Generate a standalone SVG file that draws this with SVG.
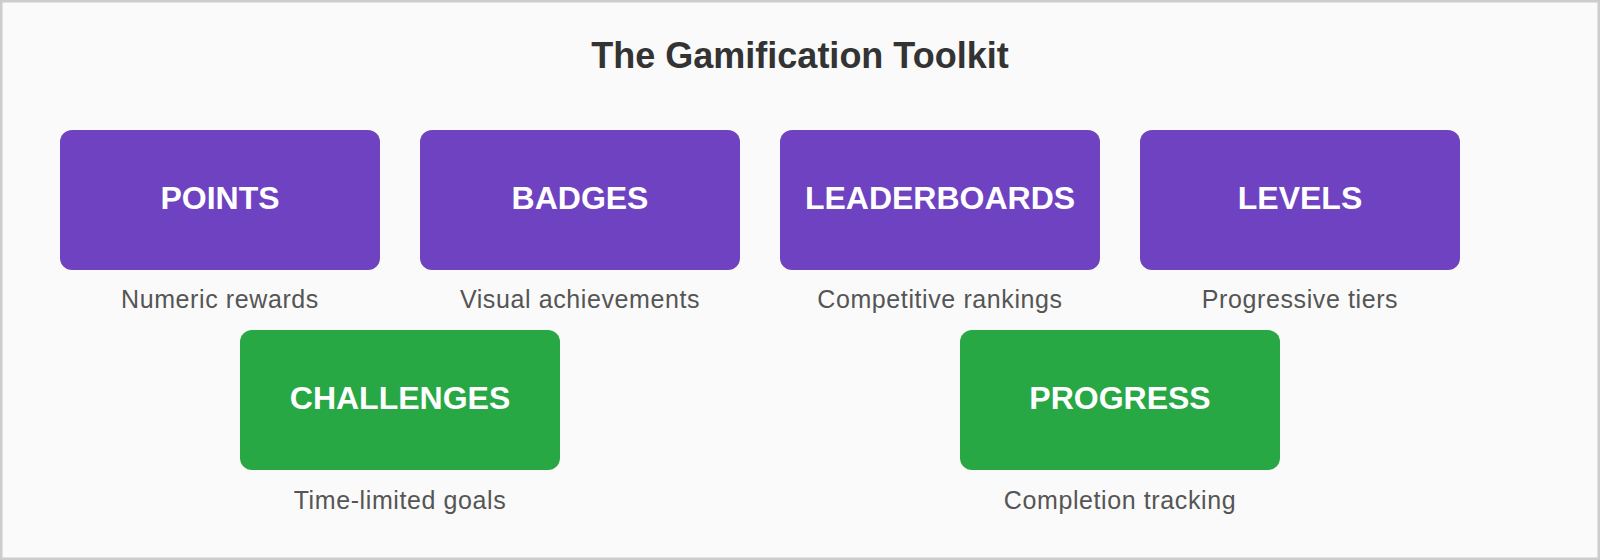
<svg xmlns="http://www.w3.org/2000/svg" width="1600" height="560" viewBox="0 0 1600 560">
  <style>
    .title { font-family: "Liberation Sans", Arial, sans-serif; font-weight: bold; font-size: 36px; fill: #333333; text-anchor: middle; }
    .box-purple { fill: #6f42c1; }
    .box-green { fill: #28a745; }
    .label { font-family: "Liberation Sans", Arial, sans-serif; font-weight: bold; font-size: 32px; fill: #ffffff; text-anchor: middle; }
    .sub { font-family: "Liberation Sans", Arial, sans-serif; font-size: 25px; letter-spacing: 0.6px; fill: #555555; text-anchor: middle; }
  </style>
  <rect x="1.25" y="1.25" width="1597.5" height="557.5" fill="#fafafa" stroke="#cccccc" stroke-width="2.5"/>
  <text class="title" x="800" y="68">The Gamification Toolkit</text>
  <g id="connectors"></g>
  <g id="node-points">
    <rect class="box-purple" x="60" y="130" width="320" height="140" rx="12"/>
    <text class="label" x="220" y="209">POINTS</text>
    <text class="sub" x="220" y="308">Numeric rewards</text>
  </g>
  <g id="node-badges">
    <rect class="box-purple" x="420" y="130" width="320" height="140" rx="12"/>
    <text class="label" x="580" y="209">BADGES</text>
    <text class="sub" x="580" y="308">Visual achievements</text>
  </g>
  <g id="node-leaderboards">
    <rect class="box-purple" x="780" y="130" width="320" height="140" rx="12"/>
    <text class="label" x="940" y="209">LEADERBOARDS</text>
    <text class="sub" x="940" y="308">Competitive rankings</text>
  </g>
  <g id="node-levels">
    <rect class="box-purple" x="1140" y="130" width="320" height="140" rx="12"/>
    <text class="label" x="1300" y="209">LEVELS</text>
    <text class="sub" x="1300" y="308">Progressive tiers</text>
  </g>
  <g id="node-challenges">
    <rect class="box-green" x="240" y="330" width="320" height="140" rx="12"/>
    <text class="label" x="400" y="409">CHALLENGES</text>
    <text class="sub" x="400" y="509">Time-limited goals</text>
  </g>
  <g id="node-progress">
    <rect class="box-green" x="960" y="330" width="320" height="140" rx="12"/>
    <text class="label" x="1120" y="409">PROGRESS</text>
    <text class="sub" x="1120" y="509">Completion tracking</text>
  </g>
</svg>
